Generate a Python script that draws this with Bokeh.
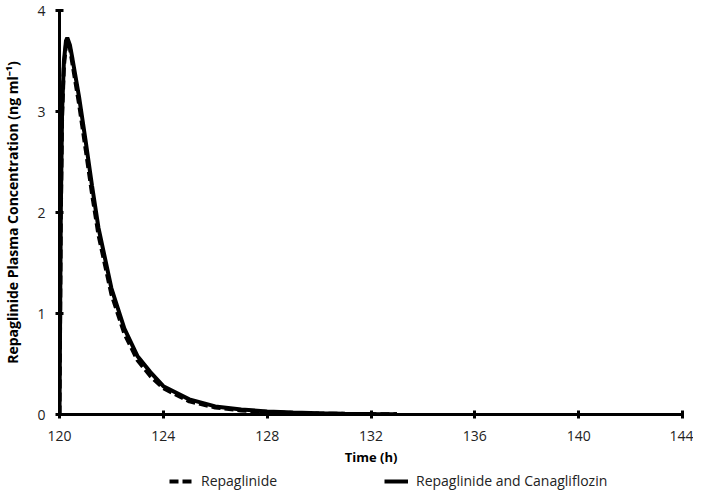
from bokeh.plotting import figure
from bokeh.layouts import column
from bokeh.models import Range1d, Legend, LegendItem, FixedTicker
from bokeh.embed import file_html
from bokeh.resources import INLINE

# Data (time in h, concentration in ng/ml)
time_h = [120.0, 120.05, 120.1, 120.17, 120.25, 120.3, 120.4, 120.5, 120.75, 121.0,
          121.25, 121.5, 122.0, 122.5, 123.0, 123.5, 124.0, 125.0, 126.0, 127.0,
          128.0, 129.0, 130.0, 131.0, 132.0, 133.0]
repaglinide = [0.0, 1.95, 2.95, 3.45, 3.66, 3.70, 3.63, 3.47, 3.08, 2.64,
               2.19, 1.78, 1.19, 0.80, 0.54, 0.38, 0.26, 0.13, 0.07, 0.04,
               0.025, 0.015, 0.01, 0.006, 0.004, 0.002]
repa_cana = [0.0, 2.0, 3.0, 3.5, 3.70, 3.73, 3.66, 3.52, 3.15, 2.72,
             2.27, 1.85, 1.25, 0.85, 0.58, 0.42, 0.28, 0.15, 0.08, 0.05,
             0.03, 0.02, 0.012, 0.008, 0.005, 0.003]
series_names = ["Repaglinide", "Repaglinide and Canagliflozin"]
x_ticks = [120, 124, 128, 132, 136, 140, 144]
y_ticks = [0, 1, 2, 3, 4]

FONT = "Open Sans"
DASH = "9 4"

p = figure(width=693, height=468, output_backend="svg", toolbar_location=None,
           x_range=Range1d(120, 144), y_range=Range1d(0, 4),
           min_border_left=54, min_border_right=11, min_border_top=10,
           min_border_bottom=54)
p.outline_line_color = None
p.xgrid.grid_line_color = None
p.ygrid.grid_line_color = None

p.line(time_h, repaglinide, line_color="black", line_width=4, line_dash=DASH)
p.line(time_h, repa_cana, line_color="black", line_width=4)

for ax in (p.xaxis[0], p.yaxis[0]):
    ax.axis_line_width = 3
    ax.axis_line_color = "black"
    ax.major_tick_line_width = 3
    ax.major_tick_line_color = "black"
    ax.major_tick_in = 4
    ax.major_tick_out = 4
    ax.minor_tick_line_color = None
    ax.major_label_text_font = FONT
    ax.major_label_text_font_size = "14px"
    ax.major_label_text_color = "#222222"
    ax.axis_label_text_font = FONT
    ax.axis_label_text_font_style = "bold"
    ax.axis_label_text_color = "black"

p.xaxis.ticker = FixedTicker(ticks=x_ticks)
p.yaxis.ticker = FixedTicker(ticks=y_ticks)
p.xaxis.axis_label = "Time (h)"
p.yaxis.axis_label = "Repaglinide Plasma Concentration (ng ml\u207b\u00b9)"
p.xaxis.axis_label_text_font_size = "13px"
p.yaxis.axis_label_text_font_size = "14px"
p.xaxis.major_label_standoff = 12
p.xaxis.axis_label_standoff = 4
p.yaxis.major_label_standoff = 10
p.yaxis.axis_label_standoff = 12

# Legend strip below the chart (series drawn outside its ranges; only the legend shows)
lg = figure(width=693, height=22, output_backend="svg", toolbar_location=None,
            x_range=Range1d(0, 1), y_range=Range1d(0, 1),
            x_axis_location=None, y_axis_location=None,
            min_border_left=0, min_border_right=0, min_border_top=0,
            min_border_bottom=0)
lg.xgrid.grid_line_color = None
lg.ygrid.grid_line_color = None
lg.outline_line_color = None
ld = lg.line(time_h, repaglinide, line_color="black", line_width=4, line_dash=DASH)
ls = lg.line(time_h, repa_cana, line_color="black", line_width=4)
legend = Legend(items=[LegendItem(label=series_names[0], renderers=[ld]),
                       LegendItem(label=series_names[1], renderers=[ls])],
                orientation="horizontal", location=(110, 0),
                label_text_font=FONT, label_text_font_size="14px",
                label_text_color="#222222",
                glyph_width=24, glyph_height=18, label_standoff=8,
                label_width=175, spacing=8,
                border_line_color=None, background_fill_alpha=0,
                padding=0, margin=0)
lg.add_layout(legend, "center")

layout = column(p, lg, spacing=0)
open("out.html", "w").write(file_html(layout, INLINE))
